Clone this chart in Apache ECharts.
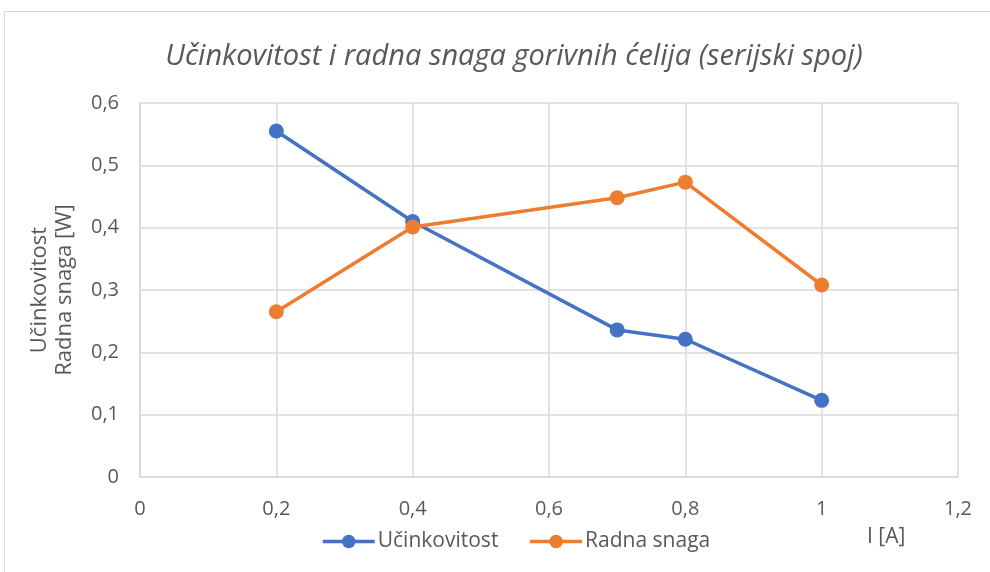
<!DOCTYPE html>
<html>
<head>
<meta charset="utf-8">
<script src="https://cdn.jsdelivr.net/npm/echarts@6/dist/echarts.min.js"></script>
<style>
  html, body { margin: 0; padding: 0; background: #fff; }
  #chart { width: 990px; height: 572px; }
</style>
</head>
<body>
<div id="chart"></div>
<script>
// struja [A]
const current = [0.2, 0.4, 0.7, 0.8, 1.0];
const efficiency = [0.555, 0.410, 0.236, 0.221, 0.123];
const power = [0.265, 0.401, 0.448, 0.473, 0.308];
const seriesNames = ['Učinkovitost', 'Radna snaga'];

const textColor = '#595959';
const font = 'Open Sans';

function pairs(xs, ys) {
    return xs.map((x, i) => [x, ys[i]]);
}

const fmt = v => String(Math.round(v * 10) / 10).replace('.', ',');

const chart = echarts.init(document.getElementById('chart'));
chart.setOption({
    backgroundColor: '#fff',
    animation: false,
    title: {
        text: 'Učinkovitost i radna snaga gorivnih ćelija (serijski spoj)',
        left: 509,
        textAlign: 'center',
        top: 37,
        textStyle: { color: textColor, fontFamily: font, fontStyle: 'italic', fontWeight: 'normal', fontSize: 29 }
    },
    graphic: [
        {
            type: 'rect',
            shape: { x: 4.5, y: 11.5, width: 990, height: 580 },
            style: { fill: 'none', stroke: '#d9d9d9', lineWidth: 1 },
            z: -1
        },
        {
            type: 'text',
            left: 867,
            top: 527,
            style: { text: 'I [A]', fill: textColor, font: '21px "Open Sans"' }
        }
    ],
    legend: {
        data: seriesNames,
        left: 316,
        top: 526,
        itemWidth: 52,
        itemHeight: 17,
        itemGap: 30,
        lineStyle: { width: 3.5 },
        textStyle: { color: textColor, fontFamily: font, fontSize: 21, padding: [0, 0, 0, -2] }
    },
    grid: { left: 140, right: 32, top: 103, bottom: 95 },
    xAxis: {
        type: 'value',
        min: 0, max: 1.2, interval: 0.2,
        axisLine: { show: true, lineStyle: { color: '#d9d9d9', width: 1.5 } },
        axisTick: { show: false },
        splitLine: { show: true, lineStyle: { color: '#d9d9d9', width: 1.5 } },
        axisLabel: { color: textColor, fontFamily: font, fontSize: 20, margin: 22, formatter: fmt }
    },
    yAxis: {
        type: 'value',
        min: 0, max: 0.6, interval: 0.1,
        name: 'Učinkovitost\nRadna snaga [W]',
        nameLocation: 'middle',
        nameGap: 63,
        nameTextStyle: { color: textColor, fontFamily: font, fontSize: 22, lineHeight: 25 },
        axisLine: { show: true, lineStyle: { color: '#d9d9d9', width: 1.5 } },
        axisTick: { show: false },
        splitLine: { show: true, lineStyle: { color: '#d9d9d9', width: 1.5 } },
        axisLabel: { color: textColor, fontFamily: font, fontSize: 20, margin: 21, formatter: fmt }
    },
    series: [
        {
            name: seriesNames[0],
            type: 'line',
            data: pairs(current, efficiency),
            symbol: 'circle',
            symbolSize: 15,
            color: '#4472C4',
            lineStyle: { width: 3.5 }
        },
        {
            name: seriesNames[1],
            type: 'line',
            data: pairs(current, power),
            symbol: 'circle',
            symbolSize: 15,
            color: '#ED7D31',
            lineStyle: { width: 3.5 }
        }
    ]
});
</script>
</body>
</html>
